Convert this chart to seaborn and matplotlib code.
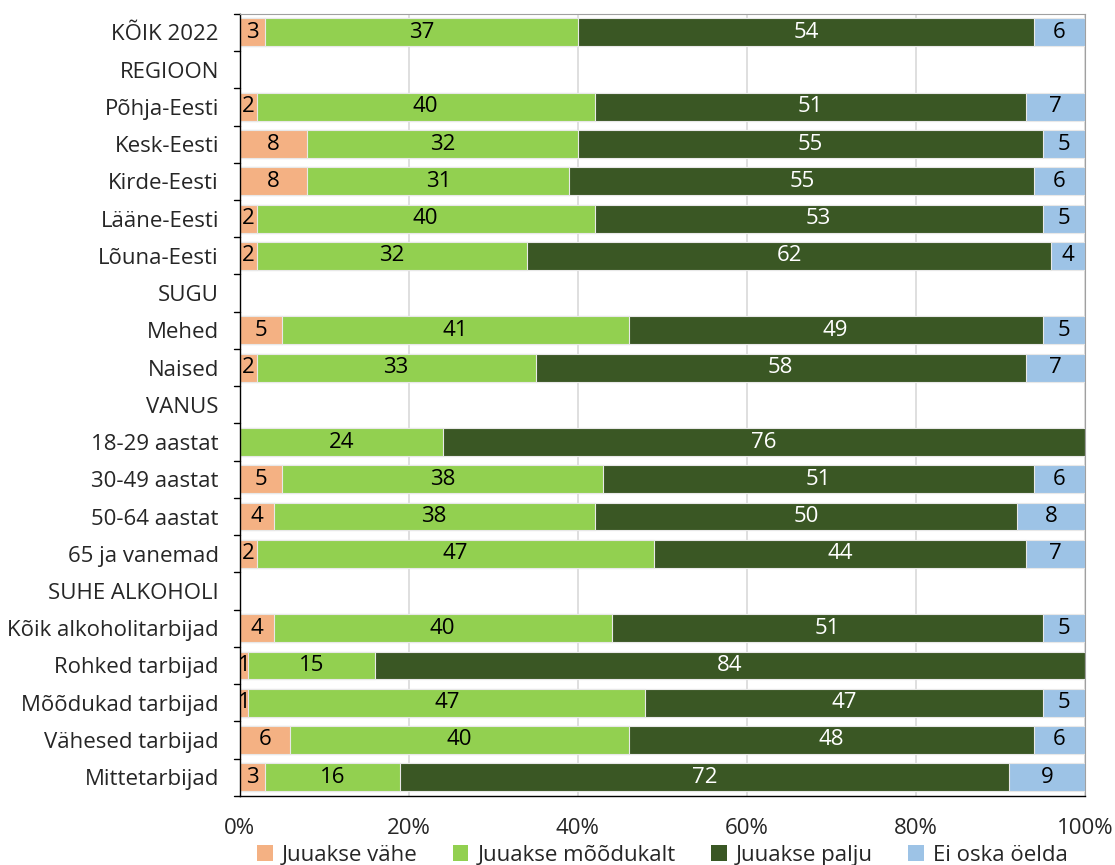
import numpy as np
import pandas as pd
import matplotlib
matplotlib.use("Agg")
import matplotlib.pyplot as plt
from matplotlib.patches import Patch
import seaborn as sns

categories = ["KÕIK 2022", "REGIOON", "Põhja-Eesti", "Kesk-Eesti", "Kirde-Eesti",
              "Lääne-Eesti", "Lõuna-Eesti", "SUGU", "Mehed", "Naised", "VANUS",
              "18-29 aastat", "30-49 aastat", "50-64 aastat", "65 ja vanemad",
              "SUHE ALKOHOLI", "Kõik alkoholitarbijad", "Rohked tarbijad",
              "Mõõdukad tarbijad", "Vähesed tarbijad", "Mittetarbijad"]

vahe = [3, None, 2, 8, 8, 2, 2, None, 5, 2, None, 0, 5, 4, 2, None, 4, 1, 1, 6, 3]
moodukalt = [37, None, 40, 32, 31, 40, 32, None, 41, 33, None, 24, 38, 38, 47, None, 40, 15, 47, 40, 16]
palju = [54, None, 51, 55, 55, 53, 62, None, 49, 58, None, 76, 51, 50, 44, None, 51, 84, 47, 48, 72]
ei_oska = [6, None, 7, 5, 6, 5, 4, None, 5, 7, None, 0, 6, 8, 7, None, 5, 0, 5, 6, 9]

series_names = ["Juuakse vähe", "Juuakse mõõdukalt", "Juuakse palju", "Ei oska öelda"]
colors = ["#F4B183", "#92D050", "#3A5724", "#9DC3E6"]
label_colors = ["black", "black", "white", "black"]

df = pd.DataFrame({"cat": categories, series_names[0]: vahe, series_names[1]: moodukalt,
                   series_names[2]: palju, series_names[3]: ei_oska}).set_index("cat")
df = df.astype(float)
cum = df.cumsum(axis=1)

sns.set_style("white")
plt.rcParams["font.family"] = ["Open Sans", "DejaVu Sans"]
FS = 16

fig, ax = plt.subplots(figsize=(11.15, 8.65), dpi=100)
fig.subplots_adjust(left=0.215, right=0.973, top=0.984, bottom=0.080)

# stacked bars: draw cumulative totals from the largest down
for i in range(3, -1, -1):
    sns.barplot(x=cum[series_names[i]].values, y=categories, orient="h",
                color=colors[i], width=0.75, ax=ax, linewidth=0.8,
                edgecolor="#e8e8e8", saturation=1)

# value labels
for r, cat in enumerate(categories):
    left = 0
    for i, s in enumerate(series_names):
        v = df.loc[cat, s]
        if np.isnan(v):
            continue
        if v > 0:
            ax.text(left + v / 2, r, f"{v:.0f}", ha="center", va="center",
                    fontsize=FS, color=label_colors[i])
        left += v

ax.set_xlim(0, 100)
ax.set_ylim(len(categories) - 0.5, -0.5)
ax.set_xticks([0, 20, 40, 60, 80, 100])
ax.set_xticklabels(["0%", "20%", "40%", "60%", "80%", "100%"], fontsize=FS)
ax.tick_params(axis="x", length=0, pad=16)
ax.tick_params(axis="y", length=0, labelsize=FS, pad=15)
ax.set_yticks(range(len(categories)))
ax.set_yticklabels(categories)
ax.set_xlabel("")
ax.set_ylabel("")
ax.xaxis.grid(True, color="#d9d9d9", linewidth=1.2)
ax.set_axisbelow(True)

# category separator ticks on the left axis
for b in np.arange(-0.5, len(categories), 1):
    ax.plot([-0.7, 0], [b, b], color="black", linewidth=1, clip_on=False)

for side in ["top", "right"]:
    ax.spines[side].set_visible(True)
    ax.spines[side].set_color("#a0a0a0")
for side in ["left", "bottom"]:
    ax.spines[side].set_color("black")
    ax.spines[side].set_linewidth(1)

handles = [Patch(facecolor=c, edgecolor="none", label=n) for c, n in zip(colors, series_names)]
ax.legend(handles=handles, loc="center", bbox_to_anchor=(0.5, -0.076), ncol=4,
          frameon=False, fontsize=FS, handlelength=0.7, handleheight=0.7,
          columnspacing=1.6, handletextpad=0.4, borderpad=0)

plt.savefig("out.png", dpi=100)
